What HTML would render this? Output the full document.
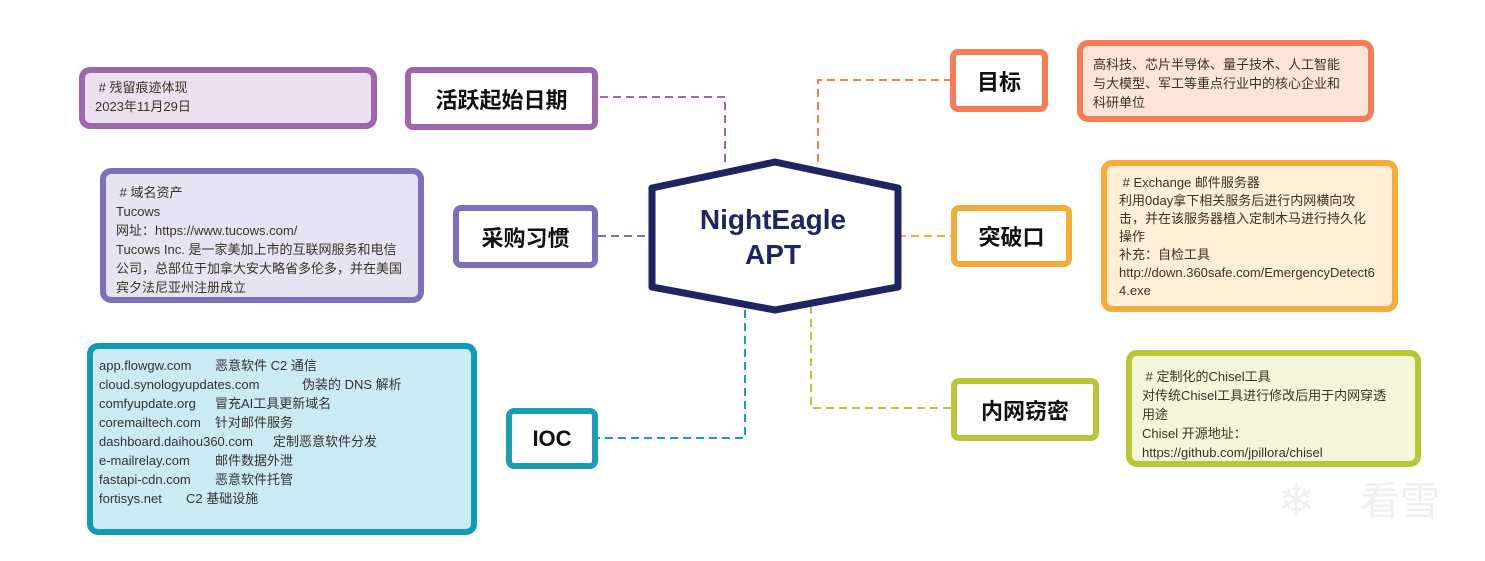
<!DOCTYPE html>
<html><head><meta charset="utf-8"><style>
body{margin:0;width:1485px;height:561px;background:#fff;position:relative;overflow:hidden;font-family:"Liberation Sans","Noto Sans CJK SC",sans-serif;}
.b{position:absolute;box-sizing:border-box;border:6px solid;border-radius:8px;background:#fff;display:flex;align-items:center;justify-content:center;font-weight:bold;font-size:22px;color:#111;}
.n{position:absolute;box-sizing:border-box;border:6px solid;border-radius:11px;font-size:13px;line-height:19px;color:#3a3226;padding:5px 10px;}
.l{position:absolute;white-space:nowrap;font-size:13px;line-height:19px;height:19px;color:#333;}
</style></head><body>
<svg width="1485" height="561" style="position:absolute;left:0;top:0">
<g fill="none" stroke-width="2" stroke-dasharray="8,5">
<path d="M725 162 V97 H598" stroke="#a066ad"/>
<path d="M818 162 V80 H950" stroke="#f47d56"/>
<path d="M598 236 H652" stroke="#7b6fbe"/>
<path d="M898 236 H951" stroke="#f7ab3a"/>
<path d="M745 310 V438 H598" stroke="#1a9db5"/>
<path d="M811 306 V408 H951" stroke="#b8c733"/>
</g>
<polygon points="652,188 775,162 898,188 898,287 775,310 652,287" fill="#fff" stroke="#1f2563" stroke-width="7" stroke-linejoin="round"/>
<text x="773" y="229" text-anchor="middle" font-family="Liberation Sans,sans-serif" font-weight="bold" font-size="28" fill="#1f2563">NightEagle</text>
<text x="773" y="264" text-anchor="middle" font-family="Liberation Sans,sans-serif" font-weight="bold" font-size="28" fill="#1f2563">APT</text>
<text x="1360" y="515" font-family="Noto Sans CJK SC,sans-serif" font-size="40" fill="#f0f0f0">看雪</text>
<text x="1278" y="515" font-family="DejaVu Sans,sans-serif" font-size="44" fill="#f0f0f0">❄</text>
</svg>
<div class="b" style="left:405px;top:67px;width:193px;height:63px;border-color:#a066ad">活跃起始日期</div>
<div class="n" style="left:79px;top:67px;width:298px;height:62px;border-color:#a066ad;background:#ece0ee">&nbsp;# 残留痕迹体现<br>2023年11月29日</div>
<div class="b" style="left:453px;top:205px;width:145px;height:63px;border-color:#7b6fbe">采购习惯</div>
<div class="n" style="left:100px;top:168px;width:324px;height:135px;border-color:#7b6fbe;background:#e6e4f3;padding-top:9px;line-height:19px">&nbsp;# 域名资产<br>Tucows<br>网址：https://www.tucows.com/<br>Tucows Inc. 是一家美加上市的互联网服务和电信公司，总部位于加拿大安大略省多伦多，并在美国宾夕法尼亚州注册成立</div>
<div class="b" style="left:506px;top:408px;width:92px;height:61px;border-color:#1a9db5">IOC</div>
<div class="n" style="left:87px;top:343px;width:390px;height:192px;border-color:#109ab8;background:#cceaf1;padding:0"></div>
<div class="l" style="left:99px;top:356px">app.flowgw.com</div><div class="l" style="left:215px;top:356px">恶意软件 C2 通信</div>
<div class="l" style="left:99px;top:375px">cloud.synologyupdates.com</div><div class="l" style="left:302px;top:375px">伪装的 DNS 解析</div>
<div class="l" style="left:99px;top:394px">comfyupdate.org</div><div class="l" style="left:215px;top:394px">冒充AI工具更新域名</div>
<div class="l" style="left:99px;top:413px">coremailtech.com</div><div class="l" style="left:215px;top:413px">针对邮件服务</div>
<div class="l" style="left:99px;top:432px">dashboard.daihou360.com</div><div class="l" style="left:273px;top:432px">定制恶意软件分发</div>
<div class="l" style="left:99px;top:451px">e-mailrelay.com</div><div class="l" style="left:215px;top:451px">邮件数据外泄</div>
<div class="l" style="left:99px;top:470px">fastapi-cdn.com</div><div class="l" style="left:215px;top:470px">恶意软件托管</div>
<div class="l" style="left:99px;top:489px">fortisys.net</div><div class="l" style="left:186px;top:489px">C2 基础设施</div>
<div class="b" style="left:950px;top:49px;width:98px;height:63px;border-color:#f47d56">目标</div>
<div class="n" style="left:1077px;top:40px;width:297px;height:82px;border-color:#f47d56;background:#fde3d8;padding:9px 20px 0 10px">高科技、芯片半导体、量子技术、人工智能与大模型、军工等重点行业中的核心企业和科研单位</div>
<div class="b" style="left:951px;top:205px;width:121px;height:62px;border-color:#f7ab3a">突破口</div>
<div class="n" style="left:1101px;top:160px;width:297px;height:152px;border-color:#f7ab3a;background:#feefd6;padding:8px 12px 0 12px;line-height:18px;word-break:break-all"><div style="width:266px">&nbsp;# Exchange 邮件服务器<br><span style="display:inline-block;width:256px">利用0day拿下相关服务后进行内网横向攻击，并在该服务器植入定制木马进行持久化操作</span><br>补充：自检工具<br>http://down.360safe.com/EmergencyDetect64.exe</div></div>
<div class="b" style="left:951px;top:378px;width:148px;height:63px;border-color:#b8c733">内网窃密</div>
<div class="n" style="left:1126px;top:350px;width:295px;height:117px;border-color:#b8c733;background:#f3f6d9;padding:11px 22px 0 10px">&nbsp;# 定制化的Chisel工具<br>对传统Chisel工具进行修改后用于内网穿透用途<br>Chisel 开源地址：<br>https://github.com/jpillora/chisel</div>
</body></html>
